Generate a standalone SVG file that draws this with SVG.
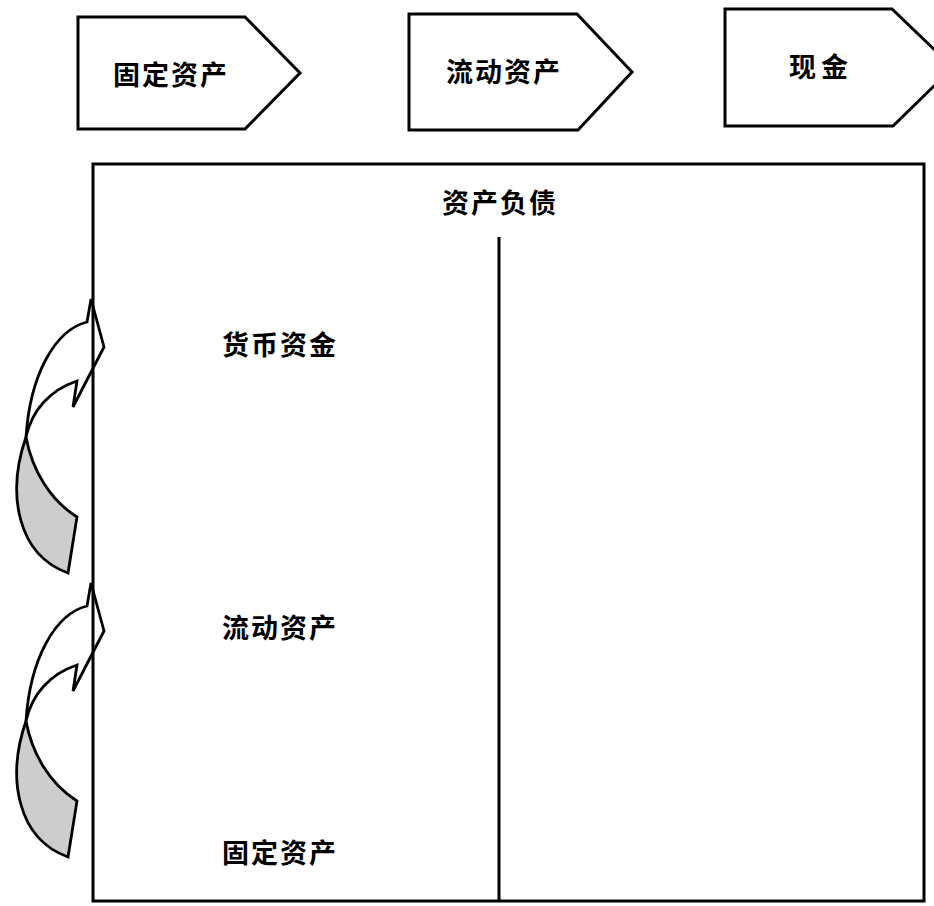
<svg xmlns="http://www.w3.org/2000/svg" xmlns:xlink="http://www.w3.org/1999/xlink" width="934" height="906" viewBox="0 0 934 906">
<style>
.shape{fill:#ffffff;stroke:#000000;stroke-width:3;stroke-linejoin:miter}
.frame{fill:none;stroke:#000000;stroke-width:3}
.lbl{font-family:"Noto Sans CJK SC","Noto Sans CJK TC",sans-serif;font-size:27px;font-weight:700;fill:#000000;text-anchor:middle;letter-spacing:2px}
.band{fill:#ffffff;stroke:#000000;stroke-width:2.8;stroke-linejoin:miter}
.back{fill:#cdcdcd;stroke:#000000;stroke-width:2.8;stroke-linejoin:miter}
</style>
<defs>
<g id="curvedArrow">
<path class="back" d="M26,437 C6,495 18,555 68,573 L77,517 C50,500 32,470 26,437 Z"/>
<path class="band" d="M87,322 L91,299 L104,347 L73,407 L77,381 C50,390 32,410 26,437 C30,375 55,330 87,322 Z"/>
</g>
</defs>
<rect width="934" height="906" fill="#ffffff"/>
<g id="connectors">
<use xlink:href="#curvedArrow"/>
<use xlink:href="#curvedArrow" transform="translate(0,284)"/>
</g>
<g id="node-fixed-assets-top">
<polygon class="shape" points="78,17 245,17 300,73 245,129 78,129"/>
<text class="lbl" x="171" y="85">固定资产</text>
</g>
<g id="node-current-assets-top">
<polygon class="shape" points="409,14 577,14 632,72 578,130 409,130"/>
<text class="lbl" x="504" y="82">流动资产</text>
</g>
<g id="node-cash-top">
<polygon class="shape" points="725,9 892,9 953,67.5 893,126 725,126"/>
<text class="lbl" x="821" y="77" style="letter-spacing:5px">现金</text>
</g>
<g id="node-balance-sheet">
<rect class="frame" x="93" y="164" width="831" height="737"/>
<line class="frame" x1="499" y1="237" x2="499" y2="901"/>
<text class="lbl" x="500" y="213">资产负债</text>
</g>
<g id="node-monetary-funds">
<text class="lbl" x="280" y="355">货币资金</text>
</g>
<g id="node-current-assets">
<text class="lbl" x="280" y="638">流动资产</text>
</g>
<g id="node-fixed-assets">
<text class="lbl" x="280" y="863">固定资产</text>
</g>
</svg>
